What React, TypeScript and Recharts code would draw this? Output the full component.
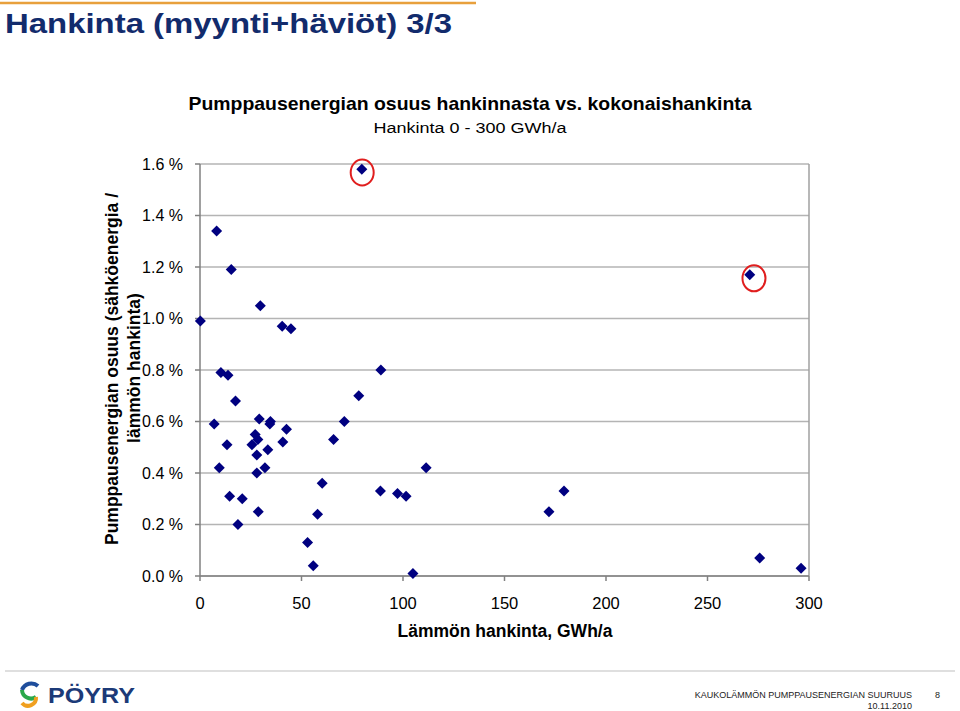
import React from "react";
import {
  ScatterChart,
  Scatter,
  XAxis,
  YAxis,
  CartesianGrid,
  ReferenceLine,
} from "recharts";

// Lämmön hankinta (GWh/a) for each network
const heatSupply = [
  0.2, 8.2, 15.4, 29.7, 40.5, 44.8, 79.7, 89.1, 10.3, 13.8, 17.5, 7.0, 29.2, 34.7, 34.4, 42.6,
  27.2, 28.5, 25.6, 13.3, 40.8, 33.4, 28.0, 9.5, 32.0, 28.0, 14.6, 20.8, 28.7, 18.7, 53.0, 55.8,
  60.2, 57.9, 65.8, 71.1, 78.2, 88.9, 97.3, 101.5, 104.9, 111.4, 171.9, 179.3, 270.8, 275.7, 296.1,
];

// Pumppausenergian osuus, %
const pumpingShare = [
  0.99, 1.34, 1.19, 1.05, 0.97, 0.96, 1.58, 0.8, 0.79, 0.78, 0.68, 0.59, 0.61, 0.6, 0.59, 0.57,
  0.55, 0.53, 0.51, 0.51, 0.52, 0.49, 0.47, 0.42, 0.42, 0.4, 0.31, 0.3, 0.25, 0.2, 0.13, 0.04,
  0.36, 0.24, 0.53, 0.6, 0.7, 0.33, 0.32, 0.31, 0.01, 0.42, 0.25, 0.33, 1.17, 0.07, 0.03,
];

// highlighted (circled) points
const circledX = [79.9, 272.9];
const circledY = [1.567, 1.156];

const xTicks = [0, 50, 100, 150, 200, 250, 300];
const yTicks = [0, 0.2, 0.4, 0.6, 0.8, 1.0, 1.2, 1.4, 1.6];

const points = heatSupply.map((x, i) => ({ x, y: pumpingShare[i] }));
const circles = circledX.map((x, i) => ({ x, y: circledY[i] }));

const FONT = '"Liberation Sans", Arial, sans-serif';
const NAVY = "#000080";

const Diamond = (p: any) => {
  const { cx, cy } = p;
  const r = 5.5;
  return (
    <polygon
      points={`${cx},${cy - r} ${cx + r},${cy} ${cx},${cy + r} ${cx - r},${cy}`}
      fill={NAVY}
    />
  );
};

const Ring = (p: any) => (
  <ellipse cx={p.cx} cy={p.cy} rx={11.5} ry={13} fill="none" stroke="#e01e1e" strokeWidth={2} />
);

export default function App() {
  return (
    <div
      style={{
        position: "absolute",
        left: 0,
        top: 0,
        width: 960,
        height: 711,
        background: "#fff",
        fontFamily: FONT,
        overflow: "hidden",
      }}
    >
      <ScatterChart
        width={960}
        height={711}
        margin={{ top: 164, right: 151, bottom: 95, left: 140 }}
        style={{ position: "absolute", left: 0, top: 0 }}
      >
        <CartesianGrid vertical={false} stroke="#b4b4b4" strokeWidth={1.5} />
        <XAxis
          type="number"
          dataKey="x"
          domain={[0, 300]}
          ticks={xTicks}
          height={40}
          stroke="#808080"
          strokeWidth={1.5}
          tickSize={5}
          tickMargin={16}
          tick={{ fontSize: 16.5, fill: "#000", fontFamily: FONT }}
        />
        <YAxis
          type="number"
          dataKey="y"
          domain={[0, 1.6]}
          ticks={yTicks}
          width={60}
          stroke="#808080"
          strokeWidth={1.5}
          tickSize={5}
          tickMargin={12}
          tickFormatter={(v: number) => `${v.toFixed(1)} %`}
          tick={{ fontSize: 16, fill: "#000", fontFamily: FONT }}
        />
        <ReferenceLine x={300} stroke="#a0a0a0" strokeWidth={1.5} />
        <Scatter data={points} shape={Diamond} isAnimationActive={false} />
        <Scatter data={circles} shape={Ring} isAnimationActive={false} />
      </ScatterChart>

      <svg
        width={960}
        height={711}
        style={{ position: "absolute", left: 0, top: 0, pointerEvents: "none" }}
        fontFamily={FONT}
      >
        <line x1={0} y1={3} x2={476} y2={3} stroke="#e8a03c" strokeWidth={2.5} />
        <text
          x={5}
          y={33}
          fontSize={28}
          fontWeight="bold"
          fill="#122b6c"
          textLength={447}
          lengthAdjust="spacingAndGlyphs"
        >
          Hankinta (myynti+häviöt) 3/3
        </text>

        <text
          x={470}
          y={110}
          textAnchor="middle"
          fontSize={18.5}
          fontWeight="bold"
          textLength={563}
          lengthAdjust="spacingAndGlyphs"
        >
          Pumppausenergian osuus hankinnasta vs. kokonaishankinta
        </text>
        <text
          x={470}
          y={133}
          textAnchor="middle"
          fontSize={15.5}
          textLength={193}
          lengthAdjust="spacingAndGlyphs"
        >
          Hankinta 0 - 300 GWh/a
        </text>

        <text
          x={113}
          y={369}
          transform="rotate(-90 113 369)"
          textAnchor="middle"
          dominantBaseline="middle"
          fontSize={17.5}
          fontWeight="bold"
        >
          Pumppausenergian osuus (sähköenergia /
        </text>
        <text
          x={135}
          y={368}
          transform="rotate(-90 135 368)"
          textAnchor="middle"
          dominantBaseline="middle"
          fontSize={17.5}
          fontWeight="bold"
        >
          lämmön hankinta)
        </text>

        <text x={505} y={637} textAnchor="middle" fontSize={17.5} fontWeight="bold">
          Lämmön hankinta, GWh/a
        </text>

        <line x1={5} y1={671} x2={955} y2={671} stroke="#d4d4d4" strokeWidth={1.5} />

        {/* logo */}
        <path d="M38 686 A10 10 0 0 0 22 690" fill="none" stroke="#1f4e9c" strokeWidth={4} />
        <path d="M22 690 A9 9 0 0 0 36 697" fill="none" stroke="#2aa84a" strokeWidth={4} />
        <path d="M36 697 A8 8 0 0 1 22 703" fill="none" stroke="#f0a020" strokeWidth={4} />
        <text
          x={48}
          y={703}
          fontSize={22}
          fontWeight="bold"
          fill="#1c3a78"
          textLength={87}
          lengthAdjust="spacingAndGlyphs"
        >
          PÖYRY
        </text>

        <text x={912} y={698} textAnchor="end" fontSize={9} fill="#222">
          KAUKOLÄMMÖN PUMPPAUSENERGIAN SUURUUS
        </text>
        <text x={912} y={709} textAnchor="end" fontSize={9} fill="#222">
          10.11.2010
        </text>
        <text x={935} y={698} fontSize={9} fill="#222">
          8
        </text>
      </svg>
    </div>
  );
}
